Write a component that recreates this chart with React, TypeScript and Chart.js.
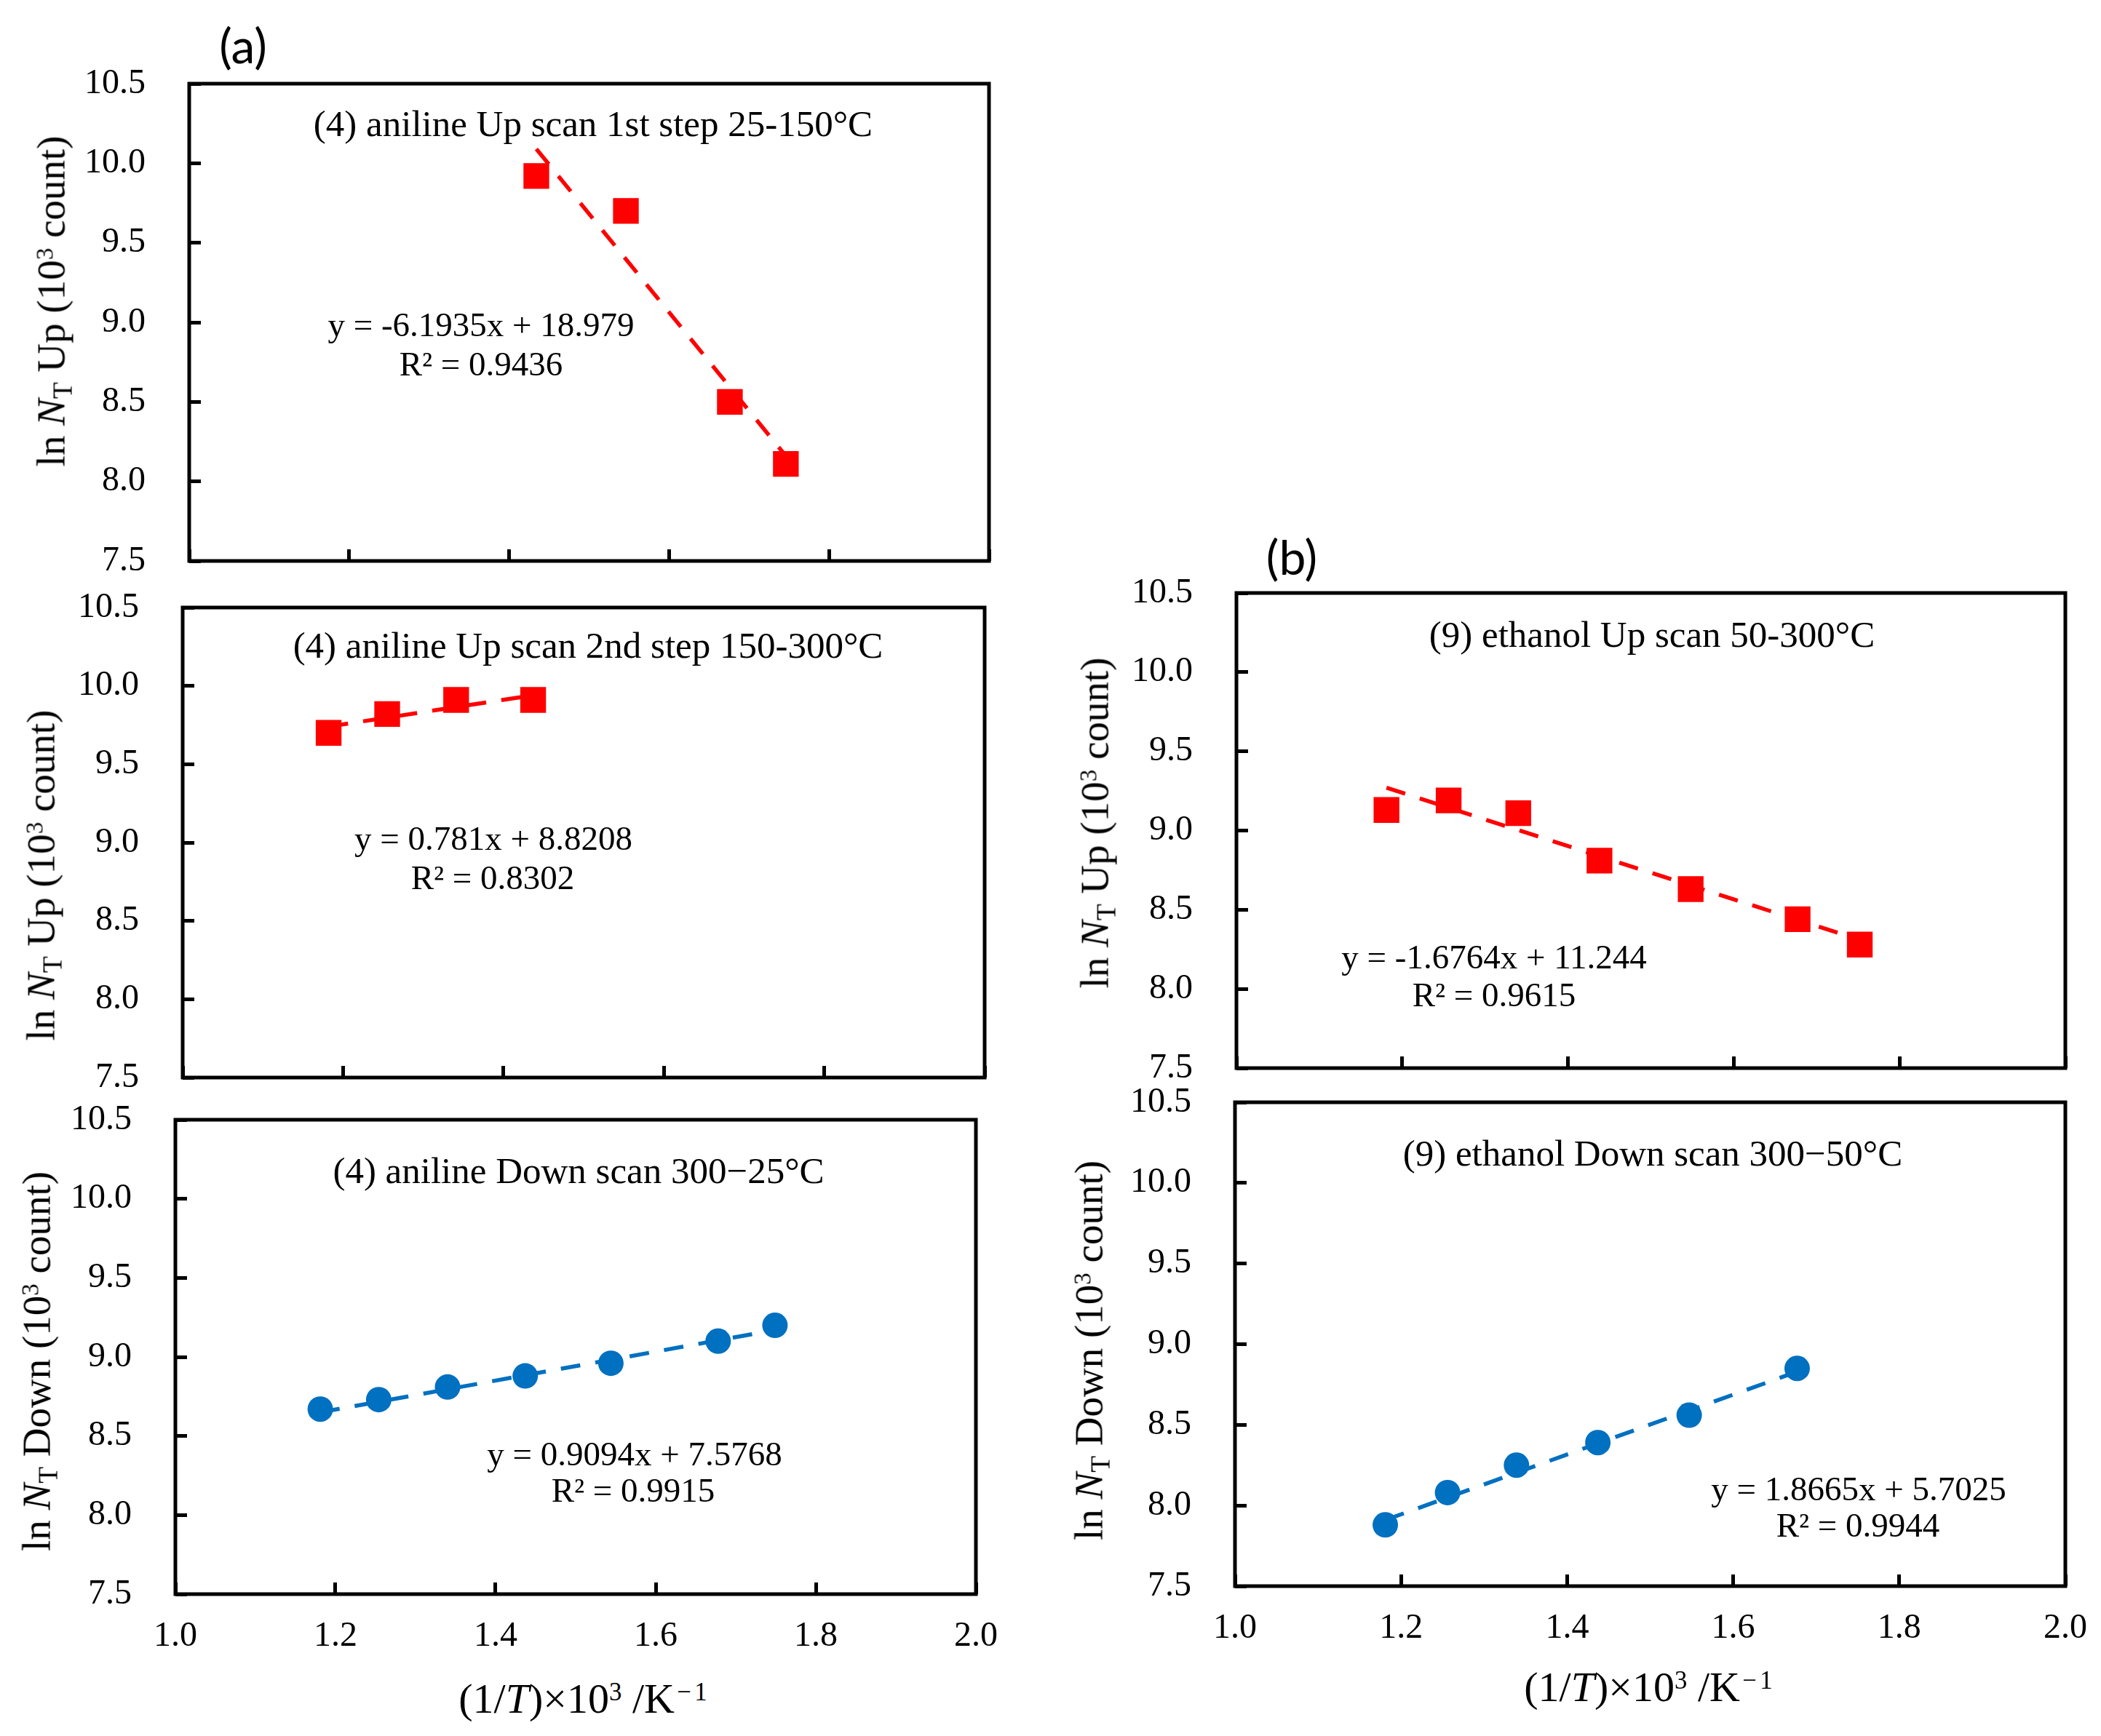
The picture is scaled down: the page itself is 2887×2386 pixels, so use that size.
import React, { useEffect, useRef } from 'react';
import { Chart, registerables } from 'chart.js';

Chart.register(...registerables);

// x = (1/T)×10³ /K⁻¹, y = ln N_T (10³ count)
const anilineUp1X = [1.434, 1.546, 1.676, 1.746];
const anilineUp1Y = [9.92, 9.7, 8.5, 8.11];
const anilineUp1FitX = [1.434, 1.746];
const anilineUp1FitY = [10.09, 8.16];

const anilineUp2X = [1.182, 1.255, 1.341, 1.437];
const anilineUp2Y = [9.7, 9.82, 9.91, 9.91];
const anilineUp2FitX = [1.182, 1.437];
const anilineUp2FitY = [9.74, 9.94];

const anilineDownX = [1.181, 1.254, 1.34, 1.437, 1.544, 1.678, 1.749];
const anilineDownY = [8.67, 8.73, 8.81, 8.88, 8.96, 9.1, 9.2];
const anilineDownFitX = [1.181, 1.749];
const anilineDownFitY = [8.65, 9.17];

const ethanolUpX = [1.181, 1.256, 1.34, 1.438, 1.548, 1.677, 1.752];
const ethanolUpY = [9.13, 9.19, 9.11, 8.81, 8.63, 8.44, 8.28];
const ethanolUpFitX = [1.181, 1.752];
const ethanolUpFitY = [9.27, 8.31];

const ethanolDownX = [1.181, 1.256, 1.339, 1.437, 1.547, 1.677];
const ethanolDownY = [7.88, 8.08, 8.25, 8.39, 8.56, 8.85];
const ethanolDownFitX = [1.181, 1.677];
const ethanolDownFitY = [7.91, 8.83];

const xTicks = [1.0, 1.2, 1.4, 1.6, 1.8, 2.0];
const yTicks = [7.5, 8.0, 8.5, 9.0, 9.5, 10.0, 10.5];

const RED = '#ff0000';
const BLUE = '#0070c0';
const SERIF = '"Liberation Serif", "Times New Roman", serif';

const frame = {
  id: 'frame',
  afterDraw(chart: Chart) {
    const { ctx, chartArea: a } = chart;
    ctx.save();
    ctx.strokeStyle = '#000';
    ctx.lineWidth = 5;
    ctx.strokeRect(a.left, a.top, a.right - a.left, a.bottom - a.top);
    ctx.restore();
  },
};

type Box = { l: number; t: number; r: number; b: number };

interface PanelProps {
  box: Box;
  xs: number[];
  ys: number[];
  fitX: number[];
  fitY: number[];
  color: string;
  marker: 'rect' | 'circle';
  xLabels: boolean;
}

function Panel({ box, xs, ys, fitX, fitY, color, marker, xLabels }: PanelProps) {
  const canvasRef = useRef<HTMLCanvasElement>(null);
  const padL = 220;
  const padT = 50;
  const padR = 60;
  const padB = xLabels ? 110 : 50;
  const w = box.r - box.l + padL + padR;
  const h = box.b - box.t + padT + padB;

  useEffect(() => {
    if (!canvasRef.current) return;
    const tickFont = { family: SERIF, size: 48 };
    const chart = new Chart(canvasRef.current, {
      type: 'scatter',
      data: {
        datasets: [
          {
            data: xs.map((x, i) => ({ x, y: ys[i] })),
            pointStyle: marker,
            pointRadius: marker === 'rect' ? 25 : 17.5,
            pointBackgroundColor: color,
            pointBorderColor: color,
            pointBorderWidth: 0,
            showLine: false,
          },
          {
            type: 'line',
            data: fitX.map((x, i) => ({ x, y: fitY[i] })),
            borderColor: color,
            borderWidth: 5.5,
            borderDash: [27, 21],
            pointRadius: 0,
            fill: false,
          },
        ],
      },
      options: {
        animation: false,
        responsive: false,
        devicePixelRatio: 1,
        events: [],
        layout: { padding: { top: padT, right: padR, left: 0, bottom: 0 } },
        plugins: { legend: { display: false }, tooltip: { enabled: false } },
        scales: {
          x: {
            type: 'linear',
            min: 1.0,
            max: 2.0,
            afterBuildTicks: (s: any) => {
              s.ticks = xTicks.map((v) => ({ value: v }));
            },
            afterFit: (s: any) => {
              s.height = padB;
              s.paddingLeft = 0;
              s.paddingRight = 0;
            },
            border: { display: false },
            grid: { drawOnChartArea: false, tickLength: -16, color: '#000', lineWidth: 5 },
            ticks: {
              display: xLabels,
              padding: 46,
              color: '#000',
              font: tickFont,
              callback: (v) => Number(v).toFixed(1),
            },
          },
          y: {
            type: 'linear',
            min: 7.5,
            max: 10.5,
            afterBuildTicks: (s: any) => {
              s.ticks = yTicks.map((v) => ({ value: v }));
            },
            afterFit: (s: any) => {
              s.width = padL;
              s.paddingTop = 0;
              s.paddingBottom = 0;
            },
            border: { display: false },
            grid: { drawOnChartArea: false, tickLength: -16, color: '#000', lineWidth: 5 },
            ticks: {
              padding: 76,
              color: '#000',
              font: tickFont,
              callback: (v) => Number(v).toFixed(1),
            },
          },
        },
      },
      plugins: [frame],
    });
    return () => chart.destroy();
  }, []);

  return (
    <canvas
      ref={canvasRef}
      width={w}
      height={h}
      style={{ position: 'absolute', left: box.l - padL, top: box.t - padT, width: w, height: h }}
    />
  );
}

function Text({ x, y, size, children, family = SERIF, rotate = false }: any) {
  return (
    <div
      style={{
        position: 'absolute',
        left: x,
        top: y,
        transform: `translate(-50%, -50%)${rotate ? ' rotate(-90deg)' : ''}`,
        fontFamily: family,
        fontSize: size,
        lineHeight: 1,
        whiteSpace: 'nowrap',
        color: '#000',
      }}
    >
      {children}
    </div>
  );
}

const sub = { fontSize: '0.68em', verticalAlign: '-0.28em' };
const sup = { fontSize: '0.6em', verticalAlign: '0.5em' };

function YTitle({ x, y, kind }: { x: number; y: number; kind: string }) {
  return (
    <Text x={x} y={y} size={55} rotate>
      ln <i>N</i>
      <span style={sub}>T</span> {kind} (10<span style={sup}>3</span> count)
    </Text>
  );
}

function XTitle({ x, y }: { x: number; y: number }) {
  return (
    <Text x={x} y={y} size={58}>
      (1/<i>T</i>)×10<span style={sup}>3</span> /K<span style={{ ...sup, letterSpacing: '0.12em', marginLeft: '0.1em' }}>−1</span>
    </Text>
  );
}

export default function App() {
  return (
    <div style={{ position: 'absolute', left: 0, top: 0, width: 2887, height: 2386, background: '#fff', overflow: 'hidden' }}>
      <Panel box={{ l: 260, t: 115, r: 1359, b: 771 }} xs={anilineUp1X} ys={anilineUp1Y}
        fitX={anilineUp1FitX} fitY={anilineUp1FitY} color={RED} marker="rect" xLabels={false} />
      <Panel box={{ l: 251, t: 835, r: 1353, b: 1481 }} xs={anilineUp2X} ys={anilineUp2Y}
        fitX={anilineUp2FitX} fitY={anilineUp2FitY} color={RED} marker="rect" xLabels={false} />
      <Panel box={{ l: 241, t: 1539, r: 1341, b: 2191 }} xs={anilineDownX} ys={anilineDownY}
        fitX={anilineDownFitX} fitY={anilineDownFitY} color={BLUE} marker="circle" xLabels />
      <Panel box={{ l: 1699, t: 815, r: 2838, b: 1468 }} xs={ethanolUpX} ys={ethanolUpY}
        fitX={ethanolUpFitX} fitY={ethanolUpFitY} color={RED} marker="rect" xLabels={false} />
      <Panel box={{ l: 1697, t: 1515, r: 2838, b: 2180 }} xs={ethanolDownX} ys={ethanolDownY}
        fitX={ethanolDownFitX} fitY={ethanolDownFitY} color={BLUE} marker="circle" xLabels />

      <Text x={334} y={62} size={66} family="Lato, 'Open Sans', sans-serif">(a)</Text>
      <Text x={1775} y={765} size={66} family="Lato, 'Open Sans', sans-serif">(b)</Text>

      <Text x={815} y={170} size={51}>(4) aniline Up scan 1st step 25-150°C</Text>
      <Text x={808} y={887} size={51}>(4) aniline Up scan 2nd step 150-300°C</Text>
      <Text x={795} y={1609} size={51}>(4) aniline Down scan 300−25°C</Text>
      <Text x={2270} y={872} size={51}>(9) ethanol Up scan 50-300°C</Text>
      <Text x={2271} y={1585} size={51}>(9) ethanol Down scan 300−50°C</Text>

      <Text x={661} y={446} size={47}>y = -6.1935x + 18.979</Text>
      <Text x={661} y={500} size={47}>R² = 0.9436</Text>
      <Text x={678} y={1152} size={47}>y = 0.781x + 8.8208</Text>
      <Text x={677} y={1206} size={47}>R² = 0.8302</Text>
      <Text x={872} y={1998} size={47}>y = 0.9094x + 7.5768</Text>
      <Text x={870} y={2048} size={47}>R² = 0.9915</Text>
      <Text x={2053} y={1315} size={47}>y = -1.6764x + 11.244</Text>
      <Text x={2053} y={1367} size={47}>R² = 0.9615</Text>
      <Text x={2554} y={2046} size={47}>y = 1.8665x + 5.7025</Text>
      <Text x={2553} y={2096} size={47}>R² = 0.9944</Text>

      <YTitle x={74} y={414} kind="Up" />
      <YTitle x={60} y={1203} kind="Up" />
      <YTitle x={54} y={1871} kind="Down" />
      <YTitle x={1508} y={1131} kind="Up" />
      <YTitle x={1500} y={1856} kind="Down" />

      <XTitle x={803} y={2335} />
      <XTitle x={2267} y={2319} />
    </div>
  );
}
